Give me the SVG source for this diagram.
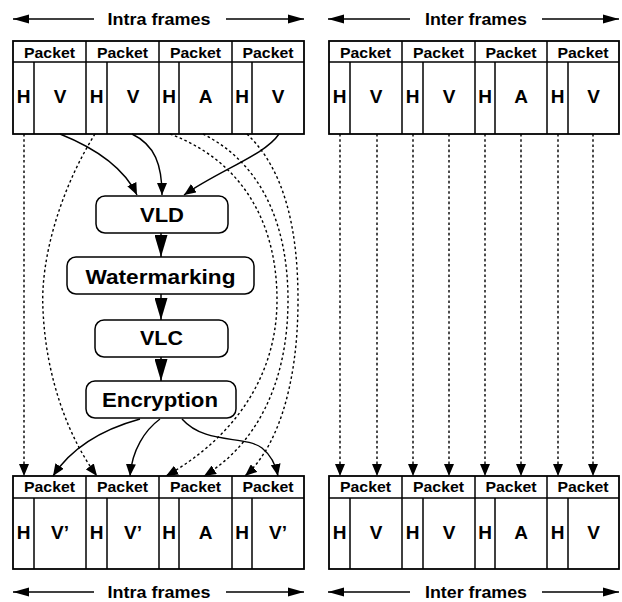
<svg xmlns="http://www.w3.org/2000/svg" width="622" height="602" viewBox="0 0 622 602">
<style>
text{font-family:"Liberation Sans",Arial,sans-serif;font-weight:bold;fill:#000;text-anchor:middle}
.pk{font-size:15.5px}
.hv{font-size:19px}
.tt{font-size:16.5px}
.bx{font-size:20.5px}
.blk{fill:#fff;stroke:#000;stroke-width:1.8}
.div{stroke:#000;stroke-width:1.5}
.proc{fill:#fff;stroke:#000;stroke-width:1.5}
.sol{fill:none;stroke:#000;stroke-width:1.4;marker-end:url(#a)}
.dot{fill:none;stroke:#000;stroke-width:1.4;stroke-dasharray:2.6 2.6;marker-end:url(#a)}
.ttl{stroke:#000;stroke-width:1.6;marker-end:url(#t)}
.big{stroke:#000;stroke-width:1.5;marker-end:url(#b)}
</style>
<defs>
<marker id="a" markerUnits="userSpaceOnUse" markerWidth="12" markerHeight="10" refX="12" refY="5" orient="auto"><path d="M0,0 L12,5 L0,10 z" fill="#000"/></marker>
<marker id="t" markerUnits="userSpaceOnUse" markerWidth="16" markerHeight="10" refX="16" refY="5" orient="auto"><path d="M0,0.5 L16,5 L0,9.5 z" fill="#000"/></marker>
<marker id="b" markerUnits="userSpaceOnUse" markerWidth="22" markerHeight="13" refX="22" refY="6.5" orient="auto"><path d="M0,0 L22,6.5 L0,13 z" fill="#000"/></marker>
</defs>

<g id="title-top-intra">
<line class="ttl" x1="94" y1="19" x2="13" y2="19"/>
<line class="ttl" x1="226" y1="19" x2="304" y2="19"/>
<text class="tt" x="159" y="24.5" textLength="103" lengthAdjust="spacingAndGlyphs">Intra frames</text>
</g>
<g id="title-top-inter">
<line class="ttl" x1="410" y1="19" x2="328" y2="19"/>
<line class="ttl" x1="542" y1="19" x2="619" y2="19"/>
<text class="tt" x="476" y="24.5" textLength="102" lengthAdjust="spacingAndGlyphs">Inter frames</text>
</g>

<g id="top-intra">
<rect class="blk" x="13" y="41" width="291" height="93"/>
<line class="div" x1="13" y1="62" x2="304" y2="62"/>
<line class="div" x1="86" y1="41" x2="86" y2="134"/>
<line class="div" x1="159" y1="41" x2="159" y2="134"/>
<line class="div" x1="232" y1="41" x2="232" y2="134"/>
<line class="div" x1="34" y1="62" x2="34" y2="134"/>
<line class="div" x1="107" y1="62" x2="107" y2="134"/>
<line class="div" x1="179" y1="62" x2="179" y2="134"/>
<line class="div" x1="252" y1="62" x2="252" y2="134"/>
<text class="pk" x="49.5" y="57.5" textLength="51" lengthAdjust="spacingAndGlyphs">Packet</text>
<text class="pk" x="122.5" y="57.5" textLength="51" lengthAdjust="spacingAndGlyphs">Packet</text>
<text class="pk" x="195.5" y="57.5" textLength="51" lengthAdjust="spacingAndGlyphs">Packet</text>
<text class="pk" x="268" y="57.5" textLength="51" lengthAdjust="spacingAndGlyphs">Packet</text>
<text class="hv" x="23.5" y="103">H</text><text class="hv" x="60" y="103">V</text>
<text class="hv" x="96.5" y="103">H</text><text class="hv" x="133" y="103">V</text>
<text class="hv" x="169" y="103">H</text><text class="hv" x="205.5" y="103">A</text>
<text class="hv" x="242" y="103">H</text><text class="hv" x="278" y="103">V</text>
</g>

<g id="top-inter">
<rect class="blk" x="329" y="41" width="290" height="93"/>
<line class="div" x1="329" y1="62" x2="619" y2="62"/>
<line class="div" x1="402" y1="41" x2="402" y2="134"/>
<line class="div" x1="475" y1="41" x2="475" y2="134"/>
<line class="div" x1="547" y1="41" x2="547" y2="134"/>
<line class="div" x1="350" y1="62" x2="350" y2="134"/>
<line class="div" x1="423" y1="62" x2="423" y2="134"/>
<line class="div" x1="495" y1="62" x2="495" y2="134"/>
<line class="div" x1="568" y1="62" x2="568" y2="134"/>
<text class="pk" x="365.5" y="57.5" textLength="51" lengthAdjust="spacingAndGlyphs">Packet</text>
<text class="pk" x="438.5" y="57.5" textLength="51" lengthAdjust="spacingAndGlyphs">Packet</text>
<text class="pk" x="511" y="57.5" textLength="51" lengthAdjust="spacingAndGlyphs">Packet</text>
<text class="pk" x="583" y="57.5" textLength="51" lengthAdjust="spacingAndGlyphs">Packet</text>
<text class="hv" x="339.5" y="103">H</text><text class="hv" x="376" y="103">V</text>
<text class="hv" x="412.5" y="103">H</text><text class="hv" x="449" y="103">V</text>
<text class="hv" x="485" y="103">H</text><text class="hv" x="521" y="103">A</text>
<text class="hv" x="557.5" y="103">H</text><text class="hv" x="593.5" y="103">V</text>
</g>

<g id="vld"><rect class="proc" x="96" y="196" width="132" height="37" rx="9"/><text class="bx" x="162" y="222" textLength="44" lengthAdjust="spacingAndGlyphs">VLD</text></g>
<g id="watermarking"><rect class="proc" x="67" y="257" width="187" height="37" rx="9"/><text class="bx" x="160.5" y="284" textLength="150" lengthAdjust="spacingAndGlyphs">Watermarking</text></g>
<g id="vlc"><rect class="proc" x="95" y="320" width="133" height="37" rx="9"/><text class="bx" x="161.5" y="345" textLength="43" lengthAdjust="spacingAndGlyphs">VLC</text></g>
<g id="encryption"><rect class="proc" x="86" y="381" width="150" height="37" rx="9"/><text class="bx" x="160" y="407" textLength="116" lengthAdjust="spacingAndGlyphs">Encryption</text></g>

<g id="bottom-intra">
<rect class="blk" x="13" y="476" width="291" height="93"/>
<line class="div" x1="13" y1="498" x2="304" y2="498"/>
<line class="div" x1="86" y1="476" x2="86" y2="569"/>
<line class="div" x1="159" y1="476" x2="159" y2="569"/>
<line class="div" x1="232" y1="476" x2="232" y2="569"/>
<line class="div" x1="34" y1="498" x2="34" y2="569"/>
<line class="div" x1="107" y1="498" x2="107" y2="569"/>
<line class="div" x1="179" y1="498" x2="179" y2="569"/>
<line class="div" x1="252" y1="498" x2="252" y2="569"/>
<text class="pk" x="49.5" y="492" textLength="51" lengthAdjust="spacingAndGlyphs">Packet</text>
<text class="pk" x="122.5" y="492" textLength="51" lengthAdjust="spacingAndGlyphs">Packet</text>
<text class="pk" x="195.5" y="492" textLength="51" lengthAdjust="spacingAndGlyphs">Packet</text>
<text class="pk" x="268" y="492" textLength="51" lengthAdjust="spacingAndGlyphs">Packet</text>
<text class="hv" x="23.5" y="538.5">H</text><text class="hv" x="60" y="538.5">V’</text>
<text class="hv" x="96.5" y="538.5">H</text><text class="hv" x="133" y="538.5">V’</text>
<text class="hv" x="169" y="538.5">H</text><text class="hv" x="205.5" y="538.5">A</text>
<text class="hv" x="242" y="538.5">H</text><text class="hv" x="278" y="538.5">V’</text>
</g>

<g id="bottom-inter">
<rect class="blk" x="329" y="476" width="290" height="93"/>
<line class="div" x1="329" y1="498" x2="619" y2="498"/>
<line class="div" x1="402" y1="476" x2="402" y2="569"/>
<line class="div" x1="475" y1="476" x2="475" y2="569"/>
<line class="div" x1="547" y1="476" x2="547" y2="569"/>
<line class="div" x1="350" y1="498" x2="350" y2="569"/>
<line class="div" x1="423" y1="498" x2="423" y2="569"/>
<line class="div" x1="495" y1="498" x2="495" y2="569"/>
<line class="div" x1="568" y1="498" x2="568" y2="569"/>
<text class="pk" x="365.5" y="492" textLength="51" lengthAdjust="spacingAndGlyphs">Packet</text>
<text class="pk" x="438.5" y="492" textLength="51" lengthAdjust="spacingAndGlyphs">Packet</text>
<text class="pk" x="511" y="492" textLength="51" lengthAdjust="spacingAndGlyphs">Packet</text>
<text class="pk" x="583" y="492" textLength="51" lengthAdjust="spacingAndGlyphs">Packet</text>
<text class="hv" x="339.5" y="538.5">H</text><text class="hv" x="376" y="538.5">V</text>
<text class="hv" x="412.5" y="538.5">H</text><text class="hv" x="449" y="538.5">V</text>
<text class="hv" x="485" y="538.5">H</text><text class="hv" x="521" y="538.5">A</text>
<text class="hv" x="557.5" y="538.5">H</text><text class="hv" x="593.5" y="538.5">V</text>
</g>

<g id="title-bottom-intra">
<line class="ttl" x1="94" y1="592" x2="13" y2="592"/>
<line class="ttl" x1="226" y1="592" x2="304" y2="592"/>
<text class="tt" x="159" y="597.5" textLength="103" lengthAdjust="spacingAndGlyphs">Intra frames</text>
</g>
<g id="title-bottom-inter">
<line class="ttl" x1="410" y1="592" x2="328" y2="592"/>
<line class="ttl" x1="542" y1="592" x2="619" y2="592"/>
<text class="tt" x="476" y="597.5" textLength="102" lengthAdjust="spacingAndGlyphs">Inter frames</text>
</g>

<g id="connectors">
<line class="big" x1="161" y1="233" x2="161" y2="257"/>
<line class="big" x1="161" y1="294" x2="161" y2="320"/>
<line class="big" x1="161" y1="357" x2="161" y2="381"/>
<path class="sol" d="M60,134 C100,150 125,170 137,195"/>
<path class="sol" d="M132,134 C155,145 162,165 162,195"/>
<path class="sol" d="M279,134 C265,155 220,170 184,195"/>
<path class="sol" d="M140,419 C100,430 70,450 53,476"/>
<path class="sol" d="M160,419 C145,430 132,450 130,476"/>
<path class="sol" d="M182,419 C205,445 245,435 262,448 C272,456 276,466 278,476"/>
<line class="dot" x1="24" y1="134" x2="24" y2="476"/>
<path class="dot" d="M95,134 C60,190 40,260 43,310 C46,380 70,440 97,476"/>
<path class="dot" d="M170,134 C240,160 277,220 277,300 C277,380 230,440 166,476"/>
<path class="dot" d="M203,134 C265,165 288,230 288,300 C288,385 255,445 204,476"/>
<path class="dot" d="M247,134 C285,170 298,230 298,300 C298,390 275,450 245,476"/>
<line class="dot" x1="340" y1="134" x2="340" y2="476"/>
<line class="dot" x1="377" y1="134" x2="377" y2="476"/>
<line class="dot" x1="413" y1="134" x2="413" y2="476"/>
<line class="dot" x1="449" y1="134" x2="449" y2="476"/>
<line class="dot" x1="485" y1="134" x2="485" y2="476"/>
<line class="dot" x1="521" y1="134" x2="521" y2="476"/>
<line class="dot" x1="558" y1="134" x2="558" y2="476"/>
<line class="dot" x1="593" y1="134" x2="593" y2="476"/>
</g>
</svg>
